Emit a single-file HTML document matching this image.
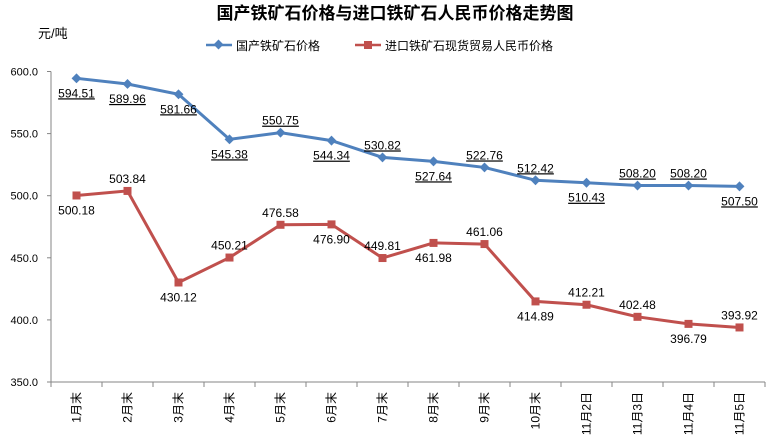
<!DOCTYPE html>
<html><head><meta charset="utf-8"><style>
body{margin:0;background:#fff;}
svg{display:block;font-family:"Liberation Sans","Noto Sans CJK SC",sans-serif;}
</style></head><body>
<svg width="775" height="447">
<text x="395" y="19" text-anchor="middle" font-size="17" font-weight="bold">国产铁矿石价格与进口铁矿石人民币价格走势图</text>
<text x="38" y="38" font-size="13">元/吨</text>
<g>
<g><line x1="206" y1="45" x2="232" y2="45" stroke="#4f81bd" stroke-width="2.5"/><rect x="215" y="41" width="7" height="7" fill="#4f81bd" transform="rotate(45 218.5 44.5)"/><text x="236" y="50" font-size="12">国产铁矿石价格</text></g>
<g><line x1="355" y1="45" x2="381" y2="45" stroke="#c0504d" stroke-width="2.5"/><rect x="364" y="41" width="8" height="8" fill="#c0504d"/><text x="385" y="50" font-size="12">进口铁矿石现货贸易人民币价格</text></g>
</g>
<g id="axes"></g><g id="series"></g>
</svg>
<script>
const categories=["1月末","2月末","3月末","4月末","5月末","6月末","7月末","8月末","9月末","10月末","11月2日","11月3日","11月4日","11月5日"];
const domestic=[594.51,589.96,581.66,545.38,550.75,544.34,530.82,527.64,522.76,512.42,510.43,508.20,508.20,507.50];
const imported=[500.18,503.84,430.12,450.21,476.58,476.90,449.81,461.98,461.06,414.89,412.21,402.48,396.79,393.92];
const domesticLabelPos=["b","b","b","b","a","b","a","b","a","a","b","a","a","b"];
const importedLabelPos=["b","a","b","a","a","b","a","b","a","b","a","a","b","a"];
const yTicks=[350,400,450,500,550,600];
const NS="http://www.w3.org/2000/svg";
const L=51,R=765,T=71.5,B=382,YMIN=350,YMAX=600;
const bw=(R-L)/categories.length;
const x=i=>L+bw*(i+0.5);
const y=v=>B-(v-YMIN)/(YMAX-YMIN)*(B-T);
function mk(tag,attrs,parent){const e=document.createElementNS(NS,tag);for(const k in attrs)e.setAttribute(k,attrs[k]);parent.appendChild(e);return e;}
const ax=document.getElementById('axes'),se=document.getElementById('series');
let yl=mk('line',{x1:L,y1:T,x2:L,y2:B,stroke:'#868686'},ax);


let xl=mk('line',{x1:L,y1:B,x2:R,y2:B,stroke:'#868686'},ax);


yTicks.forEach(v=>{
 mk('line',{x1:L-4,y1:y(v),x2:L,y2:y(v),stroke:'#868686'},ax);
 const t=mk('text',{x:L-13,y:y(v)+4,'text-anchor':'end','font-size':'11'},ax);
 t.textContent=v.toFixed(1);
 
 
});
for(let i=0;i<=categories.length;i++){mk('line',{x1:L+bw*i,y1:B,x2:L+bw*i,y2:B+5,stroke:'#868686'},ax);}
categories.forEach((c,i)=>{
 const t=mk('text',{x:0,y:0,'text-anchor':'end','font-size':'12',transform:`translate(${x(i)+4},392) rotate(-90)`},ax);
 t.textContent=c;
 
 
});
function series(data,pos,color,marker,name,underline){
 const p=mk('polyline',{points:data.map((v,i)=>x(i)+','+y(v)).join(' '),fill:'none',stroke:color,'stroke-width':'3'},se);
 
 
 data.forEach((v,i)=>{
  let m;
  if(marker==='d') m=mk('rect',{x:x(i)-3.5,y:y(v)-3.5,width:7,height:7,fill:color,transform:`rotate(45 ${x(i)} ${y(v)})`},se);
  else m=mk('rect',{x:x(i)-4,y:y(v)-4,width:8,height:8,fill:color},se);
  
  
  const ly=pos[i]==='a'?y(v)-8:y(v)+19;
  const t=mk('text',{x:x(i),y:ly,'text-anchor':'middle','font-size':'12','text-decoration':underline?'underline':'none'},se);
  t.textContent=v.toFixed(2);
  
  
 });
}
series(imported,importedLabelPos,'#c0504d','s','import-price',false);
series(domestic,domesticLabelPos,'#4f81bd','d','domestic-price',true);
</script>
</body></html>
